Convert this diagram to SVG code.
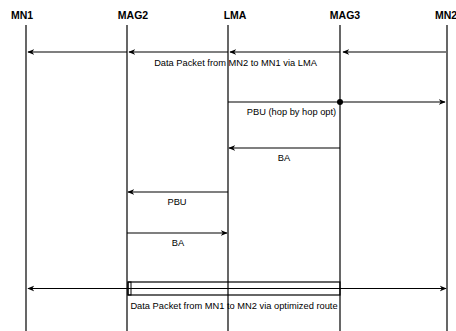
<svg xmlns="http://www.w3.org/2000/svg" width="456" height="331" viewBox="0 0 456 331">
<style>
.hdr{font-family:"Liberation Sans",Arial,sans-serif;font-size:10.5px;font-weight:bold;fill:#000;text-anchor:middle}
.lbl{font-family:"Liberation Sans",Arial,sans-serif;font-size:9.3px;fill:#000;text-anchor:middle}
.life{stroke:#000;stroke-width:1.2}
.msg{stroke:#000;stroke-width:1.2;fill:none}
</style>
<defs>
<marker id="ah" viewBox="0 0 10 10" refX="9" refY="5" markerWidth="7" markerHeight="7" orient="auto-start-reverse" markerUnits="userSpaceOnUse">
<path d="M0,1 L10,5 L0,9 L3,5 Z" fill="#000"/>
</marker>
</defs>
<g id="MN1"><text class="hdr" x="22" y="19">MN1</text><line class="life" x1="26" y1="25" x2="26" y2="331"/></g>
<g id="MAG2"><text class="hdr" x="133" y="19">MAG2</text><line class="life" x1="127" y1="25" x2="127" y2="331"/></g>
<g id="LMA"><text class="hdr" x="235" y="19">LMA</text><line class="life" x1="228" y1="25" x2="228" y2="331"/></g>
<g id="MAG3"><text class="hdr" x="345" y="19">MAG3</text><line class="life" x1="340" y1="25" x2="340" y2="331"/></g>
<g id="MN2"><text class="hdr" x="446" y="19">MN2</text><line class="life" x1="447" y1="25" x2="447" y2="331"/></g>
<g id="connectors">
<line class="msg" x1="446" y1="52" x2="343" y2="52" marker-end="url(#ah)"/>
<line class="msg" x1="340" y1="52" x2="230" y2="52" marker-end="url(#ah)"/>
<line class="msg" x1="228" y1="52" x2="129" y2="52" marker-end="url(#ah)"/>
<line class="msg" x1="127" y1="52" x2="28" y2="52" marker-end="url(#ah)"/>
<text class="lbl" x="235.5" y="66">Data Packet from MN2 to MN1 via LMA</text>
<line class="msg" x1="228" y1="102" x2="445" y2="102" marker-end="url(#ah)"/>
<circle cx="340" cy="102" r="3" fill="#000"/>
<text class="lbl" x="291.5" y="115">PBU (hop by hop opt)</text>
<line class="msg" x1="340" y1="148" x2="229" y2="148" marker-end="url(#ah)"/>
<text class="lbl" x="284" y="161">BA</text>
<line class="msg" x1="228" y1="192" x2="128" y2="192" marker-end="url(#ah)"/>
<text class="lbl" x="177" y="205">PBU</text>
<line class="msg" x1="127" y1="233" x2="227" y2="233" marker-end="url(#ah)"/>
<text class="lbl" x="178" y="246">BA</text>
<rect x="128" y="282" width="212" height="13" fill="none" stroke="#000" stroke-width="1.2"/>
<rect x="128" y="282" width="3" height="13" fill="none" stroke="#000" stroke-width="1"/>
<line class="msg" x1="28" y1="288.5" x2="446" y2="288.5" marker-start="url(#ah)" marker-end="url(#ah)"/>
<text class="lbl" x="234" y="309">Data Packet from MN1 to MN2 via optimized route</text>
</g>
</svg>
